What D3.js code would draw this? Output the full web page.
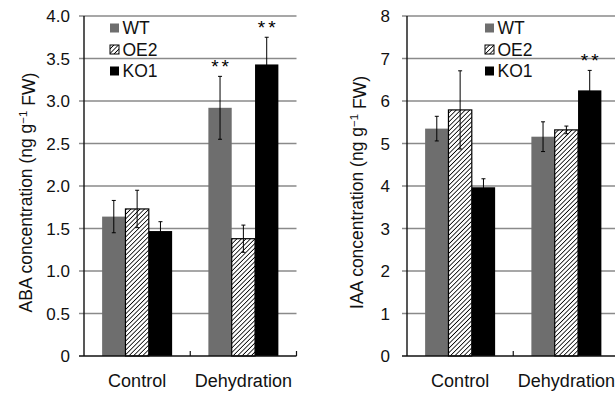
<!DOCTYPE html>
<html>
<head>
<meta charset="utf-8">
<script src="https://cdn.jsdelivr.net/npm/d3@7"></script>
<style>
  body { margin: 0; background: #fff; }
  svg { display: block; font-family: "Liberation Sans", Arial, sans-serif; }
</style>
</head>
<body>
<div id="svgBody"></div>
<script>
// data
var groups = ["Control", "Dehydration"];
var lines = ["WT", "OE2", "KO1"];

var abaValues = [[1.64, 1.73, 1.47], [2.92, 1.38, 3.43]];
var abaErrors = [[0.19, 0.22, 0.11], [0.37, 0.16, 0.32]];
var abaStars = [["", "", ""], ["**", "", "**"]];
var abaTicks = [0, 0.5, 1.0, 1.5, 2.0, 2.5, 3.0, 3.5, 4.0];
var abaTickLabels = ["0", "0.5", "1.0", "1.5", "2.0", "2.5", "3.0", "3.5", "4.0"];

var iaaValues = [[5.35, 5.79, 3.97], [5.16, 5.32, 6.25]];
var iaaErrors = [[0.29, 0.92, 0.2], [0.35, 0.09, 0.47]];
var iaaStars = [["", "", ""], ["", "", "**"]];
var iaaTicks = [0, 1, 2, 3, 4, 5, 6, 7, 8];
var iaaTickLabels = ["0", "1", "2", "3", "4", "5", "6", "7", "8"];

var svg = d3.select("#svgBody")
    .append("svg")
    .attr("width", 615)
    .attr("height", 393);

var defs = svg.append("defs");
var pat = defs.append("pattern")
    .attr("id", "hatch")
    .attr("patternUnits", "userSpaceOnUse")
    .attr("width", 3.2)
    .attr("height", 3.2)
    .attr("patternTransform", "rotate(45)");
pat.append("rect").attr("width", 3.2).attr("height", 3.2).attr("fill", "#fff");
pat.append("line")
    .attr("x1", 0).attr("y1", 0).attr("x2", 0).attr("y2", 3.2)
    .attr("stroke", "#000").attr("stroke-width", 1.6);

var fills = ["#6e6e6e", "url(#hatch)", "#000"];

function drawPanel(left, yMax, values, errors, stars, ticks, tickLabels, title, legendX, titleX, labelGap) {
    var top = 16, bottom = 356, plotW = 212.5;
    var g = svg.append("g");

    var x0 = d3.scaleBand().domain(groups).range([left, left + plotW]).paddingInner(0).paddingOuter(0);
    var x1 = d3.scaleBand().domain(lines).range([0, 70]);
    var y = d3.scaleLinear().domain([0, yMax]).range([bottom, top]);

    // gridlines + outward ticks
    g.selectAll(".grid").data(ticks.slice(1)).enter().append("line")
        .attr("x1", left - 5).attr("x2", left + plotW)
        .attr("y1", function(d) { return y(d); })
        .attr("y2", function(d) { return y(d); })
        .attr("stroke", "#8a8a8a").attr("stroke-width", 1.3);

    // tick labels
    g.selectAll(".tl").data(ticks).enter().append("text")
        .attr("x", left - labelGap)
        .attr("y", function(d) { return y(d); })
        .attr("dy", "0.36em")
        .attr("text-anchor", "end")
        .attr("font-size", "17px")
        .attr("fill", "#111")
        .text(function(d, i) { return tickLabels[i]; });

    // bars
    groups.forEach(function(grp, gi) {
        var gx = x0(grp) + (x0.bandwidth() - 70) / 2;
        lines.forEach(function(ln, li) {
            var v = values[gi][li], e = errors[gi][li];
            var bx = gx + x1(ln);
            g.append("rect")
                .attr("x", bx).attr("y", y(v))
                .attr("width", x1.bandwidth()).attr("height", bottom - y(v))
                .attr("fill", fills[li])
                .attr("stroke", li === 1 ? "#000" : "none")
                .attr("stroke-width", 1.2);
            var cx = bx + x1.bandwidth() / 2;
            g.append("line")
                .attr("x1", cx).attr("x2", cx)
                .attr("y1", y(v + e)).attr("y2", y(v - e))
                .attr("stroke", "#000").attr("stroke-width", 1);
            [v + e, v - e].forEach(function(ev) {
                g.append("line")
                    .attr("x1", cx - 2).attr("x2", cx + 2)
                    .attr("y1", y(ev)).attr("y2", y(ev))
                    .attr("stroke", "#000").attr("stroke-width", 1);
            });
            if (stars[gi][li]) {
                g.append("text")
                    .attr("x", cx + 1.5).attr("y", y(v + e) - 3)
                    .attr("text-anchor", "middle")
                    .attr("font-size", "19px")
                    .attr("letter-spacing", "3px")
                    .attr("fill", "#000")
                    .text(stars[gi][li]);
            }
        });
        // category label
        g.append("text")
            .attr("x", x0(grp) + x0.bandwidth() / 2)
            .attr("y", 386.5)
            .attr("text-anchor", "middle")
            .attr("font-size", "18px")
            .attr("fill", "#111")
            .text(grp);
    });

    // axes
    g.append("line")
        .attr("x1", left).attr("x2", left)
        .attr("y1", top).attr("y2", bottom)
        .attr("stroke", "#111").attr("stroke-width", 1.4);
    g.append("line")
        .attr("x1", left - 5).attr("x2", left + plotW)
        .attr("y1", bottom).attr("y2", bottom)
        .attr("stroke", "#111").attr("stroke-width", 1.4);
    [x0("Dehydration"), left + plotW].forEach(function(tx) {
        g.append("line")
            .attr("x1", tx).attr("x2", tx)
            .attr("y1", bottom - 5).attr("y2", bottom)
            .attr("stroke", "#111").attr("stroke-width", 1.2);
    });

    // legend
    lines.forEach(function(ln, li) {
        var ly = 28 + li * 21.5;
        g.append("rect")
            .attr("x", legendX).attr("y", ly - 4.5)
            .attr("width", 9).attr("height", 9)
            .attr("fill", fills[li])
            .attr("stroke", li === 1 ? "#000" : "none")
            .attr("stroke-width", 1);
        g.append("text")
            .attr("x", legendX + 12.5).attr("y", ly)
            .attr("dy", "0.36em")
            .attr("font-size", "17.5px")
            .attr("fill", "#111")
            .text(ln);
    });

    // y title
    var t = g.append("text")
        .attr("transform", "translate(" + titleX + ",192.5) rotate(-90)")
        .attr("text-anchor", "middle")
        .attr("font-size", "17.5px")
        .attr("fill", "#111");
    t.append("tspan").text(title + " concentration (ng g");
    t.append("tspan").attr("dy", "-0.45em").attr("font-size", "11.5px").text("\u22121");
    t.append("tspan").attr("dy", "0.45em").text(" FW)");
}

drawPanel(84, 4, abaValues, abaErrors, abaStars, abaTicks, abaTickLabels, "ABA", 110, 32, 14);
drawPanel(407, 8, iaaValues, iaaErrors, iaaStars, iaaTicks, iaaTickLabels, "IAA", 485, 363, 17);
</script>
</body>
</html>
